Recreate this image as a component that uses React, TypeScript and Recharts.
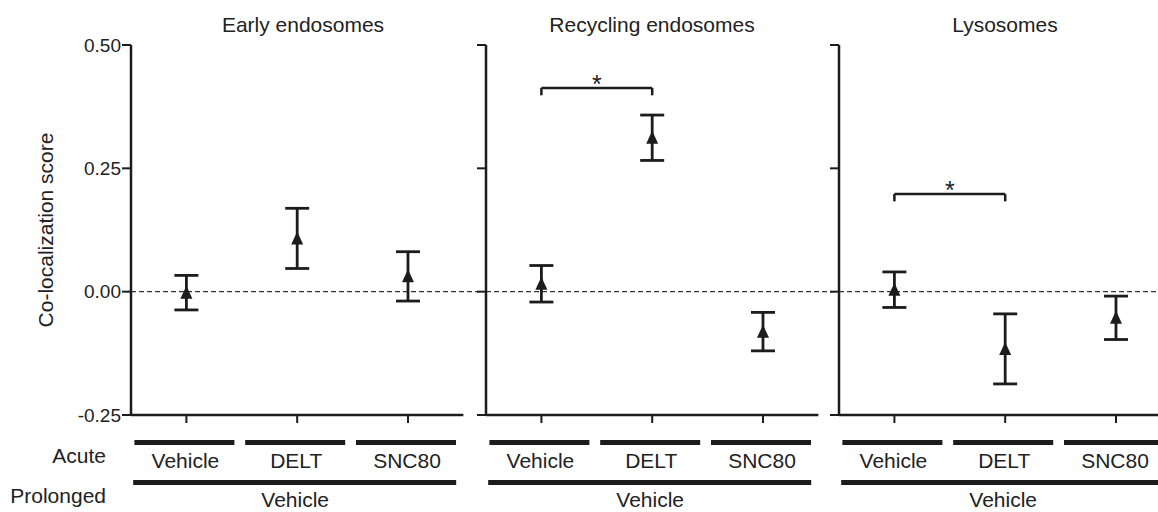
import React from 'react'
import { ScatterChart, Scatter, XAxis, YAxis, ErrorBar, ReferenceLine, ReferenceDot } from 'recharts'

// categories along the x axis of every panel
const categories = ['Vehicle', 'DELT', 'SNC80']
const panelTitles = ['Early endosomes', 'Recycling endosomes', 'Lysosomes']

// mean co-localization score and SEM, per category
const earlyMeans = [-0.002, 0.108, 0.031]
const earlyErrs = [0.035, 0.061, 0.05]
const recyclingMeans = [0.016, 0.312, -0.081]
const recyclingErrs = [0.037, 0.046, 0.039]
const lysosomeMeans = [0.004, -0.116, -0.053]
const lysosomeErrs = [0.036, 0.071, 0.044]

const yTicks = [-0.25, 0, 0.25, 0.5]
const yLabel = 'Co-localization score'
const rowLabels = ['Acute', 'Prolonged']
const prolongedLabel = 'Vehicle'

// significance brackets (category index from/to, bracket height)
const sigBrackets = [null, { from: 0, to: 1, y: 0.413 }, { from: 0, to: 1, y: 0.198 }]

const INK = '#1c1c1c'
const TEXT = '#222'
const FONT = '"Liberation Sans", Arial, Helvetica, sans-serif'
const PLOT_W = 349
const TICK = 8

const panels = [
  { title: panelTitles[0], means: earlyMeans, errs: earlyErrs, sig: sigBrackets[0], left: 0, axisW: 131, labels: true },
  { title: panelTitles[1], means: recyclingMeans, errs: recyclingErrs, sig: sigBrackets[1], left: 446, axisW: 40, labels: false },
  { title: panelTitles[2], means: lysosomeMeans, errs: lysosomeErrs, sig: sigBrackets[2], left: 799, axisW: 40, labels: false },
]

const Triangle = (props: any) => {
  const { cx, cy } = props
  return <path d={`M${cx},${cy - 7} L${cx + 6},${cy + 6} L${cx - 6},${cy + 6} Z`} fill={INK} />
}

const Asterisk = (props: any) => (
  <text x={props.cx} y={props.cy + 5} textAnchor="middle" fontSize={25} fill={TEXT}>
    *
  </text>
)

function CategoryTick(props: any) {
  const { x, y, payload } = props
  const i = Math.floor(payload.value)
  const axisY = y - TICK
  return (
    <g>
      <rect x={x - 52} y={axisY + 25} width={100} height={5} fill={INK} />
      <text x={x - 1} y={axisY + 53} textAnchor="middle" fontSize={21} fill={TEXT}>
        {categories[i]}
      </text>
      {i === 1 && (
        <g>
          <rect x={x - 164} y={axisY + 65} width={323} height={5} fill={INK} />
          <text x={x - 2} y={axisY + 92} textAnchor="middle" fontSize={21} fill={TEXT}>
            {prolongedLabel}
          </text>
        </g>
      )}
    </g>
  )
}

function Panel({ p }: { p: any }) {
  const data = categories.map((c, i) => ({ name: c, x: i + 0.5, y: p.means[i], err: p.errs[i] }))
  const xTicks = categories.map((_, i) => i + 0.5)
  const sig = p.sig
  return (
    <div style={{ position: 'absolute', left: p.left, top: 0 }}>
      <ScatterChart width={p.axisW + PLOT_W} height={512} margin={{ top: 45, right: 0, bottom: 0, left: 0 }}>
        <XAxis
          type="number"
          dataKey="x"
          domain={[0, 3.15]}
          allowDataOverflow
          ticks={xTicks}
          interval={0}
          axisLine={false}
          tickLine={{ stroke: INK, strokeWidth: 2 }}
          tickSize={TICK}
          tickMargin={0}
          height={97}
          tick={<CategoryTick />}
        />
        <YAxis
          type="number"
          dataKey="y"
          domain={[-0.25, 0.5]}
          ticks={yTicks}
          interval={0}
          width={p.axisW}
          axisLine={{ stroke: INK, strokeWidth: 2.5 }}
          tickLine={{ stroke: INK, strokeWidth: 2 }}
          tickSize={9}
          tickMargin={1}
          tick={{ fontSize: 19, fill: TEXT }}
          tickFormatter={(v: number) => (p.labels ? v.toFixed(2) : '')}
        />
        <ReferenceLine y={0} stroke="#333" strokeWidth={1.3} strokeDasharray="5 3" />
        <ReferenceLine
          segment={[{ x: 0, y: -0.25 }, { x: 3, y: -0.25 }]}
          stroke={INK}
          strokeWidth={2.5}
        />
        {sig && (
          <ReferenceLine
            segment={[{ x: sig.from + 0.5, y: sig.y }, { x: sig.to + 0.5, y: sig.y }]}
            stroke={INK}
            strokeWidth={2.5}
          />
        )}
        {sig && (
          <ReferenceLine
            segment={[{ x: sig.from + 0.5, y: sig.y }, { x: sig.from + 0.5, y: sig.y - 0.015 }]}
            stroke={INK}
            strokeWidth={2.5}
          />
        )}
        {sig && (
          <ReferenceLine
            segment={[{ x: sig.to + 0.5, y: sig.y }, { x: sig.to + 0.5, y: sig.y - 0.015 }]}
            stroke={INK}
            strokeWidth={2.5}
          />
        )}
        {sig && <ReferenceDot x={(sig.from + sig.to) / 2 + 0.5} y={sig.y} r={2} shape={<Asterisk />} />}
        <Scatter data={data} dataKey="y" shape={<Triangle />} isAnimationActive={false}>
          <ErrorBar dataKey="err" direction="y" width={12} strokeWidth={2.8} stroke={INK} isAnimationActive={false} />
        </Scatter>
      </ScatterChart>
    </div>
  )
}

export default function App() {
  const titleX = [303, 652, 1005]
  return (
    <div
      style={{
        position: 'absolute',
        left: 0,
        top: 0,
        width: 1158,
        height: 512,
        overflow: 'hidden',
        background: '#fff',
        fontFamily: FONT,
      }}
    >
      {panels.map((p, i) => (
        <Panel key={i} p={p} />
      ))}
      <svg width={1158} height={512} style={{ position: 'absolute', left: 0, top: 0, pointerEvents: 'none' }}>
        {panels.map((p, i) => (
          <text key={i} x={titleX[i]} y={32} textAnchor="middle" fontSize={21} fill={TEXT}>
            {p.title}
          </text>
        ))}
        <text transform="translate(53, 230) rotate(-90)" textAnchor="middle" fontSize={21} fill={TEXT}>
          {yLabel}
        </text>
        <text x={106} y={463} textAnchor="end" fontSize={21} fill={TEXT}>
          {rowLabels[0]}
        </text>
        <text x={106} y={503} textAnchor="end" fontSize={21} fill={TEXT}>
          {rowLabels[1]}
        </text>
      </svg>
    </div>
  )
}
